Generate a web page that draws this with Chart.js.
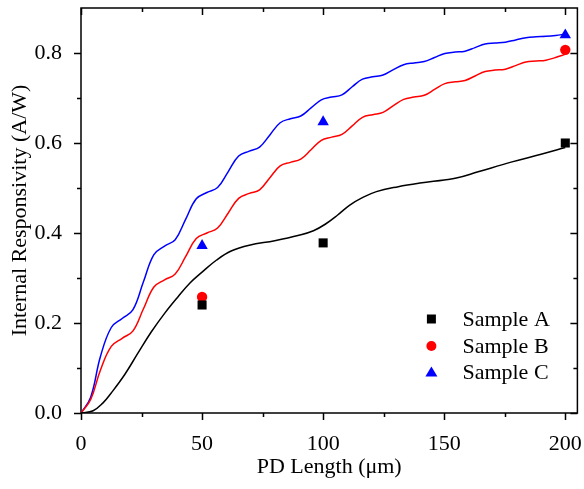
<!DOCTYPE html>
<html>
<head>
<meta charset="utf-8">
<script src="https://cdn.jsdelivr.net/npm/chart.js@4/dist/chart.umd.min.js"></script>
<style>
  html, body { margin: 0; padding: 0; background: #fff; }
  #wrap { width: 584px; height: 489px; }
</style>
</head>
<body>
<div id="wrap"><canvas id="resp-chart" width="584" height="489"></canvas></div>
<script>
/* 数据：测量点 (PD 长度, µm) */
var SAMPLE_A_X = [50, 100, 200];
var SAMPLE_A_Y = [0.240, 0.378, 0.600];
var SAMPLE_B_X = [50, 200];
var SAMPLE_B_Y = [0.258, 0.807];
var SAMPLE_C_X = [50, 100, 200];
var SAMPLE_C_Y = [0.372, 0.647, 0.840];

/* 模拟曲线 */
var FIT_A_X = [0, 5, 9, 12.4, 18, 23.5, 29, 34.6, 40, 45, 50, 56, 62, 69.5, 80, 90, 96, 101, 106, 111, 116, 122, 131, 140, 150, 155, 164, 178, 190, 200];
var FIT_A_Y = [0, 0.005, 0.022, 0.044, 0.085, 0.133, 0.180, 0.222, 0.258, 0.289, 0.313, 0.340, 0.360, 0.373, 0.383, 0.395, 0.405, 0.420, 0.440, 0.462, 0.478, 0.492, 0.503, 0.511, 0.518, 0.522, 0.536, 0.558, 0.575, 0.590];

var FIT_B_X = [0, 4, 8, 12.5, 17, 21.4, 25.75, 30.1, 34.5, 38.9, 43.25, 47.6, 52, 56.4, 60.75, 65.1, 69.5, 73.75, 78, 82.25, 86.5, 90.75, 95, 99.25, 103.5, 107.75, 112, 116.25, 120.5, 124.75, 129, 133.25, 137.5, 141.75, 146, 150.25, 154.5, 158.6, 162.75, 166.9, 171, 175.25, 179.5, 183.75, 188, 192, 196, 200];
var FIT_B_Y = [0, 0.030, 0.095, 0.148, 0.166, 0.182, 0.231, 0.280, 0.296, 0.309, 0.348, 0.388, 0.400, 0.411, 0.444, 0.477, 0.488, 0.496, 0.523, 0.549, 0.557, 0.564, 0.585, 0.606, 0.613, 0.619, 0.638, 0.657, 0.663, 0.668, 0.683, 0.697, 0.702, 0.706, 0.719, 0.732, 0.736, 0.739, 0.749, 0.759, 0.762, 0.764, 0.772, 0.780, 0.782, 0.784, 0.790, 0.797];

var FIT_C_X = [0, 4, 8, 12.5, 17, 21.4, 25.75, 30.1, 34.5, 38.9, 43.25, 47.6, 52, 56.4, 60.75, 65.1, 69.5, 73.75, 78, 82.25, 86.5, 90.75, 95, 99.25, 103.5, 107.75, 112, 116.25, 120.5, 124.75, 129, 133.25, 137.5, 141.75, 146, 150.25, 154.5, 158.6, 162.75, 166.9, 171, 175.25, 179.5, 183.75, 188, 192, 196, 200];
var FIT_C_Y = [0, 0.035, 0.125, 0.190, 0.210, 0.229, 0.291, 0.352, 0.371, 0.385, 0.431, 0.476, 0.490, 0.501, 0.536, 0.571, 0.582, 0.591, 0.618, 0.645, 0.654, 0.660, 0.678, 0.696, 0.702, 0.707, 0.725, 0.742, 0.747, 0.751, 0.763, 0.774, 0.778, 0.781, 0.790, 0.799, 0.802, 0.804, 0.812, 0.820, 0.822, 0.824, 0.829, 0.834, 0.836, 0.837, 0.839, 0.842];

/* 刻度 */
var X_TICKS = [0, 25, 50, 75, 100, 125, 150, 175, 200];
var Y_TICKS = [0, 0.1, 0.2, 0.3, 0.4, 0.5, 0.6, 0.7, 0.8];

var LEGEND_LABELS = ['Sample A', 'Sample B', 'Sample C'];

(function () {
  'use strict';

  var FONT = "'Liberation Serif', 'Times New Roman', serif";
  var COLORS = ['#000000', '#ff0000', '#0000ff'];
  var STYLES = ['rect', 'circle', 'triangle'];

  function pts(xs, ys) {
    return xs.map(function (x, i) { return { x: x, y: ys[i] }; });
  }

  function curve(xs, ys, color, tension) {
    return {
      type: 'line',
      data: pts(xs, ys),
      borderColor: color,
      borderWidth: 1.5,
      pointRadius: 0,
      fill: false,
      tension: tension
    };
  }

  function markers(xs, ys, color, style, r) {
    return {
      type: 'scatter',
      data: pts(xs, ys),
      showLine: false,
      pointStyle: style,
      pointRadius: r,
      pointBackgroundColor: color,
      pointBorderColor: color,
      pointBorderWidth: 0,
      clip: false
    };
  }

  /* 边框 + 内外刻度 */
  var frameTicks = {
    id: 'frameTicks',
    beforeDatasetsDraw: function (chart) {
      var ctx = chart.ctx, a = chart.chartArea;
      var xs = chart.scales.x, ys = chart.scales.y;
      ctx.save();
      ctx.strokeStyle = '#000';
      ctx.lineWidth = 1.5;
      ctx.strokeRect(a.left, a.top, a.right - a.left, a.bottom - a.top);
      ctx.beginPath();
      X_TICKS.forEach(function (v) {
        var px = Math.round(xs.getPixelForValue(v)) + 0.5;
        var len = (v % 50 === 0) ? 7 : 4;
        ctx.moveTo(px, a.bottom); ctx.lineTo(px, a.bottom + len);
        ctx.moveTo(px, a.top); ctx.lineTo(px, a.top + len);
      });
      Y_TICKS.forEach(function (v, i) {
        var py = Math.round(ys.getPixelForValue(v)) + 0.5;
        var len = (i % 2 === 0) ? 7 : 4;
        ctx.moveTo(a.left, py); ctx.lineTo(a.left - len, py);
        ctx.moveTo(a.right, py); ctx.lineTo(a.right - len, py);
      });
      ctx.stroke();
      ctx.restore();
    }
  };

  /* 图内右下角图例 */
  var innerLegend = {
    id: 'innerLegend',
    afterDraw: function (chart) {
      var ctx = chart.ctx, a = chart.chartArea;
      var mx = a.right - 146, tx = a.right - 115;
      var rows = [a.bottom - 94, a.bottom - 67, a.bottom - 41];
      ctx.save();
      ctx.font = '22px ' + FONT;
      ctx.textBaseline = 'middle';
      ctx.textAlign = 'left';
      LEGEND_LABELS.forEach(function (label, i) {
        var y = rows[i];
        ctx.fillStyle = COLORS[i];
        ctx.beginPath();
        if (i === 0) {
          ctx.rect(mx - 4.5, y - 4.5, 9, 9);
        } else if (i === 1) {
          ctx.arc(mx, y, 5, 0, Math.PI * 2);
        } else {
          ctx.moveTo(mx, y - 5.5);
          ctx.lineTo(mx + 6, y + 4.5);
          ctx.lineTo(mx - 6, y + 4.5);
          ctx.closePath();
        }
        ctx.fill();
        ctx.fillStyle = '#000';
        ctx.fillText(label, tx, y + 1);
      });
      ctx.restore();
    }
  };

  var tickFont = { family: FONT, size: 22 };

  new Chart(document.getElementById('resp-chart'), {
    data: {
      datasets: [
        curve(FIT_A_X, FIT_A_Y, COLORS[0], 0.4),
        curve(FIT_B_X, FIT_B_Y, COLORS[1], 0.4),
        curve(FIT_C_X, FIT_C_Y, COLORS[2], 0.4),
        markers(SAMPLE_A_X, SAMPLE_A_Y, COLORS[0], STYLES[0], 6.4),
        markers(SAMPLE_B_X, SAMPLE_B_Y, COLORS[1], STYLES[1], 5.2),
        markers(SAMPLE_C_X, SAMPLE_C_Y, COLORS[2], STYLES[2], 6.6)
      ]
    },
    options: {
      responsive: false,
      animation: false,
      layout: { padding: { left: 0, right: 6, top: 8, bottom: 0 } },
      plugins: { legend: { display: false }, tooltip: { enabled: false } },
      scales: {
        x: {
          type: 'linear',
          min: 0,
          max: 205,
          border: { display: false },
          grid: { display: false },
          ticks: {
            stepSize: 50,
            includeBounds: false,
            color: '#000',
            font: tickFont,
            padding: 10,
            maxRotation: 0
          },
          title: {
            display: true,
            text: 'PD Length (\u03bcm)',
            color: '#000',
            font: tickFont,
            padding: { top: 0, bottom: 9 }
          },
          afterFit: function (s) {
            s.height = 76;
            s.paddingLeft = 0;
            s.paddingRight = 0;
          }
        },
        y: {
          type: 'linear',
          min: 0,
          max: 0.9,
          border: { display: false },
          grid: { display: false },
          ticks: {
            stepSize: 0.2,
            includeBounds: false,
            color: '#000',
            font: tickFont,
            padding: 11,
            callback: function (v) { return Number(v).toFixed(1); }
          },
          title: {
            display: true,
            text: 'Internal Responsivity (A/W)',
            color: '#000',
            font: tickFont,
            padding: { top: 7, bottom: 0 }
          },
          afterFit: function (s) {
            s.width = 81;
            s.paddingTop = 0;
            s.paddingBottom = 0;
          }
        }
      }
    },
    plugins: [frameTicks, innerLegend]
  });
}());
</script>
</body>
</html>
